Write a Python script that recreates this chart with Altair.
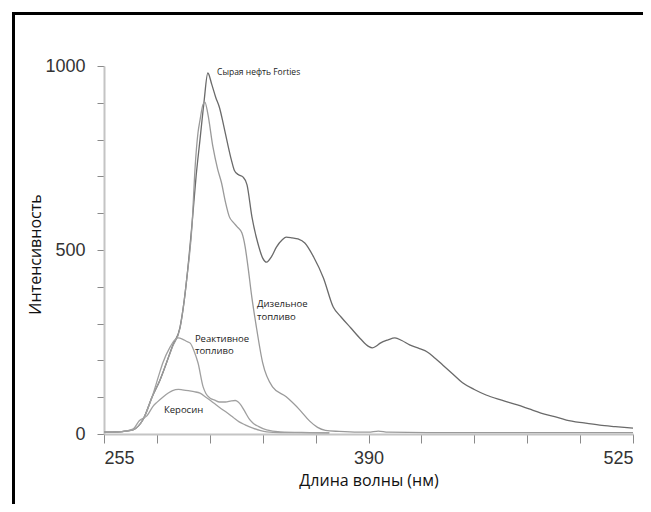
import altair as alt
import pandas as pd

# Сырая нефть Forties
crude_x = [255, 262, 266, 270, 275, 279.5, 283.6, 287, 290, 293.8, 296, 297.2, 300, 302, 304, 306, 308,
           310, 312, 314, 316, 318, 320, 321.5, 323.5, 326, 328, 330.5, 333.5, 336, 338, 340.5, 343, 346,
           348, 351, 354, 357.5, 362, 367, 372, 376, 381, 386, 390, 392, 394, 396, 400, 403.5, 407, 411,
           416, 420, 424, 428, 433, 438, 444, 450, 458, 466, 472, 478, 485, 491, 500, 508, 516, 525]
crude_y = [5, 6, 8, 12, 40, 100, 147, 195, 240, 290, 365, 420, 575, 700, 800, 900, 981,
           950, 915, 886, 840, 791, 745, 717, 705, 698, 677, 590, 519, 478, 467, 482, 508, 528,
           535, 533, 530, 519, 481, 424, 345, 318, 288, 258, 238, 234, 239, 247, 256, 261, 254, 242,
           232, 223, 206, 187, 163, 139, 121, 106, 92, 79, 68, 57, 47, 38, 30, 24, 20, 16]

# Дизельное топливо
diesel_x = [255, 262, 266, 270, 275, 279.5, 283.6, 287, 290, 293.8, 296, 297.2, 300, 301.5, 303, 304,
            305.5, 306.5, 308, 310.6, 313, 315, 317, 319, 321, 323, 325.4, 327, 328.5, 330.5, 332.5,
            336, 341, 348, 355, 360, 364, 368, 375, 385, 390, 395, 400, 420, 460, 525]
diesel_y = [5, 6, 8, 12, 40, 100, 147, 195, 238, 288, 365, 420, 573, 725, 820, 853,
            895, 902, 870, 780, 720, 682, 630, 590, 575, 563, 546, 510, 454, 370, 300,
            193, 128, 101, 65, 35, 18, 10, 7, 5, 5, 8, 5, 4, 4, 4]

# Реактивное топливо
jet_x = [255, 262, 266, 270, 275, 279.5, 283, 285, 288.7, 291, 292.8, 295, 297, 299, 301, 303, 305.6,
         307, 309, 311.5, 314, 317, 320, 322, 323.5, 325, 327, 329, 331, 334, 338, 345, 360, 370]
jet_y = [5, 6, 8, 12, 40, 100, 160, 193, 236, 255, 261, 258, 252, 247, 225, 193, 128,
         110, 98, 92, 87, 87, 90, 91, 87, 78, 60, 42, 30, 20, 11, 6, 4, 3]

# Керосин
kero_x = [255, 262, 266, 270, 273, 277, 280, 282, 285, 288, 290, 293, 295, 298, 301, 304, 307, 311,
          314, 318, 321, 324, 327, 331, 335, 338, 345, 370]
kero_y = [5, 6, 8, 14, 36, 50, 75, 86, 100, 112, 118, 121, 120, 118, 115, 111, 100, 84,
          72, 57, 45, 33, 25, 16, 9, 6, 4, 3]

series_names = ["Сырая нефть Forties", "Дизельное топливо", "Реактивное топливо", "Керосин"]
series_colors = ["#6a6a6a", "#9a9a9a", "#a0a0a0", "#a0a0a0"]

# labels
label_text = ["Сырая нефть Forties", "Дизельное", "топливо", "Реактивное", "топливо", "Керосин"]
label_x = [312.7, 333.1, 333.1, 301.4, 301.4, 285.6]
label_y = [976, 344, 311, 250, 218, 57]
label_size = [8.5, 9.5, 9.5, 9.5, 9.5, 9.5]

x_ticks = [255 + 27 * i for i in range(11)]
y_ticks = [100 * i for i in range(11)]

rows = []
for name, xs, ys in [(series_names[0], crude_x, crude_y), (series_names[1], diesel_x, diesel_y),
                     (series_names[2], jet_x, jet_y), (series_names[3], kero_x, kero_y)]:
    for i, (a, b) in enumerate(zip(xs, ys)):
        rows.append({"series": name, "wl": a, "val": b, "order": i})
df = pd.DataFrame(rows)

lab = pd.DataFrame({"text": label_text, "wl": label_x, "val": label_y, "size": label_size})

xscale = alt.Scale(domain=[255, 525], nice=False, zero=False)
yscale = alt.Scale(domain=[0, 1000], nice=False)

x_axis = alt.Axis(values=x_ticks, title="Длина волны (нм)", format="d", labelOverlap=False,
                  labelExpr="(datum.value == 255 || datum.value == 390 || datum.value == 525) ? datum.label : ''",
                  tickSize=9, labelPadding=6, titleY=51, titleBaseline="alphabetic")
y_axis = alt.Axis(values=y_ticks, title="Интенсивность", format="d", labelOverlap=False,
                  labelExpr="(datum.value == 0 || datum.value == 500 || datum.value == 1000) ? datum.label : ''",
                  tickSize=7, labelPadding=12, titleX=-64, titleY=188,
                  titleBaseline="alphabetic", titleAngle=-90)

lines = alt.Chart(df).mark_line(strokeWidth=1.3, interpolate="monotone").encode(
    x=alt.X("wl:Q", scale=xscale, axis=x_axis),
    y=alt.Y("val:Q", scale=yscale, axis=y_axis),
    color=alt.Color("series:N", scale=alt.Scale(domain=series_names, range=series_colors), legend=None),
    detail="series:N",
    order="order:Q",
)

texts = alt.Chart(lab).mark_text(align="left", baseline="alphabetic", font="Open Sans",
                                 color="#222").encode(
    x=alt.X("wl:Q", scale=xscale, axis=x_axis),
    y=alt.Y("val:Q", scale=yscale, axis=y_axis),
    text="text:N",
    size=alt.Size("size:Q", scale=None, legend=None),
)

one = pd.DataFrame({"a": [0]})
frame_left = alt.Chart(one).mark_rule(color="black", strokeWidth=3).encode(
    x=alt.value(-90.5), y=alt.value(-53.5), y2=alt.value(600))
frame_top = alt.Chart(one).mark_rule(color="black", strokeWidth=3).encode(
    x=alt.value(-92), x2=alt.value(700), y=alt.value(-52.5))

chart = alt.layer(lines, texts, frame_left, frame_top).properties(
    width=529, height=368,
    autosize=alt.AutoSizeParams(type="none"),
    padding={"left": 96, "top": 58, "right": 10, "bottom": 70},
).configure_view(stroke=None).configure_axis(
    grid=False,
    domainColor="#c4c4c4", domainWidth=2,
    tickColor="#8a8a8a", tickWidth=1,
    labelFont="Liberation Sans", labelFontSize=18, labelColor="#333",
    titleFont="Open Sans", titleFontSize=16, titleFontWeight="normal", titleColor="#111",
)

chart.save("out.html", embed_options={"renderer": "svg", "actions": False})
